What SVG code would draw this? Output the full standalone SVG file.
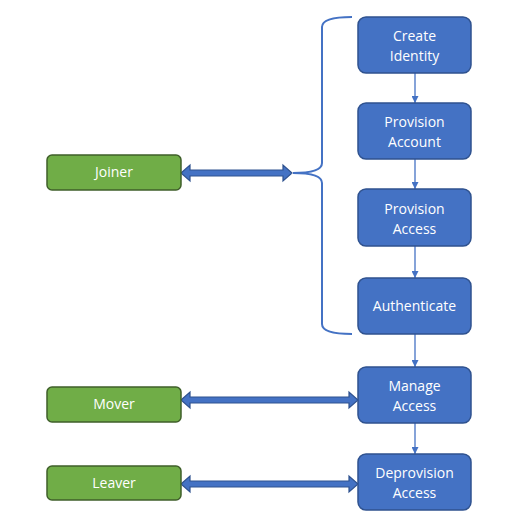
<svg xmlns="http://www.w3.org/2000/svg" width="516" height="530" viewBox="0 0 516 530">
<defs>
<style>
.blue{fill:#4472C4;stroke:#2F528F;stroke-width:1.5}
.green{fill:#70AD47;stroke:#3F5F2A;stroke-width:1.5}
.t{fill:#fff;font-family:"Open Sans","Liberation Sans",sans-serif;font-size:14px;text-anchor:middle}
.link{stroke:#4472C4;stroke-width:1.3;fill:none;marker-end:url(#ah)}
.big{fill:#4472C4;stroke:#2F528F;stroke-width:1.2}
</style>
<marker id="ah" viewBox="0 0 10 10" refX="10" refY="5" markerWidth="7" markerHeight="7" markerUnits="userSpaceOnUse" orient="auto">
<path d="M0,0 L10,5 L0,10 z" fill="#4472C4"/>
</marker>
</defs>
<rect width="516" height="530" fill="#fff"/>
<g id="connectors">
<line class="link" x1="415" y1="73" x2="415" y2="103"/>
<line class="link" x1="415" y1="159" x2="415" y2="189"/>
<line class="link" x1="415" y1="246" x2="415" y2="278"/>
<line class="link" x1="415" y1="334" x2="415" y2="367"/>
<line class="link" x1="415" y1="423" x2="415" y2="454"/>
<polygon class="big" points="181,173 190,165 190,170 283,170 283,165 292,173 283,181 283,176 190,176 190,181"/>
<polygon class="big" points="181,400 190,392 190,397 349,397 349,392 358,400 349,408 349,403 190,403 190,408"/>
<polygon class="big" points="181,484 190,476 190,481 349,481 349,476 358,484 349,492 349,487 190,487 190,492"/>
<path d="M352,17 Q322,17 322,27 L322,163 Q322,173 293,173 Q322,173 322,183 L322,324 Q322,334 352,334" fill="none" stroke="#4472C4" stroke-width="2"/>
</g>
<g id="create-identity"><rect class="blue" x="358" y="17" width="113" height="56" rx="8"/><text class="t" x="414.5" y="41">Create</text><text class="t" x="414.5" y="61">Identity</text></g>
<g id="provision-account"><rect class="blue" x="358" y="103" width="113" height="56" rx="8"/><text class="t" x="414.5" y="127">Provision</text><text class="t" x="414.5" y="147">Account</text></g>
<g id="provision-access"><rect class="blue" x="358" y="189" width="113" height="57" rx="8"/><text class="t" x="414.5" y="214">Provision</text><text class="t" x="414.5" y="234">Access</text></g>
<g id="authenticate"><rect class="blue" x="358" y="278" width="113" height="56" rx="8"/><text class="t" x="414.5" y="311">Authenticate</text></g>
<g id="manage-access"><rect class="blue" x="358" y="367" width="113" height="56" rx="8"/><text class="t" x="414.5" y="391">Manage</text><text class="t" x="414.5" y="411">Access</text></g>
<g id="deprovision-access"><rect class="blue" x="358" y="454" width="113" height="56" rx="8"/><text class="t" x="414.5" y="478">Deprovision</text><text class="t" x="414.5" y="498">Access</text></g>
<g id="joiner"><rect class="green" x="47" y="155" width="134" height="35" rx="5"/><text class="t" x="114" y="177">Joiner</text></g>
<g id="mover"><rect class="green" x="47" y="387" width="134" height="35" rx="5"/><text class="t" x="114" y="409">Mover</text></g>
<g id="leaver"><rect class="green" x="47" y="466" width="134" height="34" rx="5"/><text class="t" x="114" y="488">Leaver</text></g>
</svg>
